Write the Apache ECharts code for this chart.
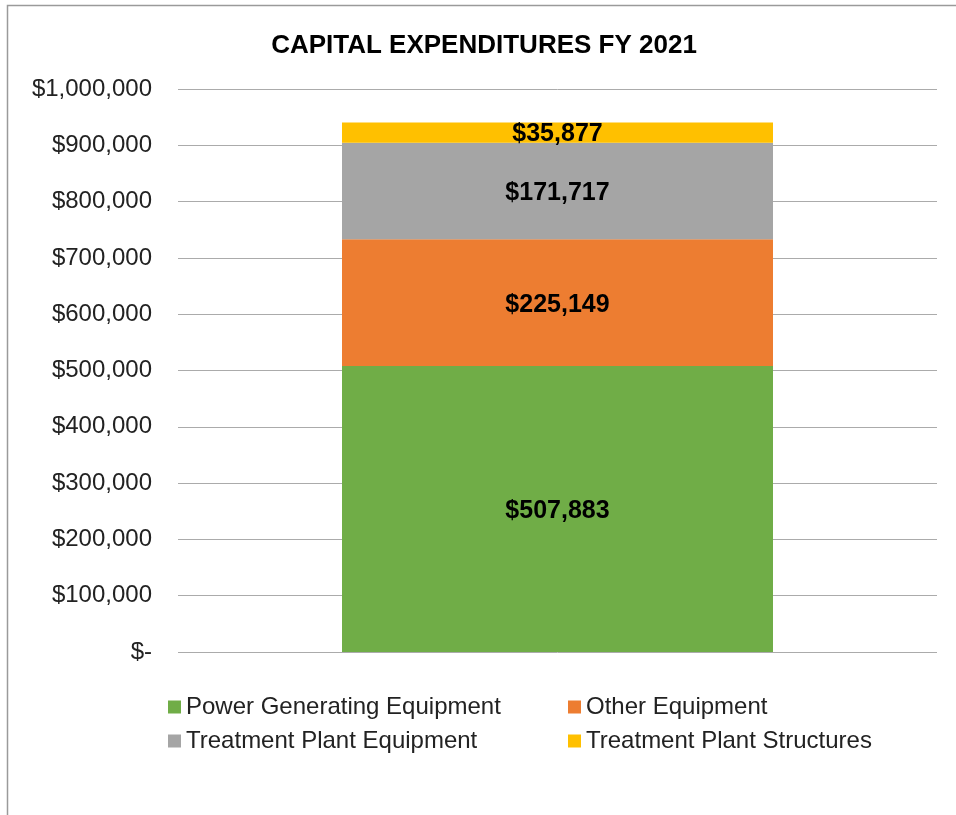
<!DOCTYPE html>
<html>
<head>
<meta charset="utf-8">
<script src="https://cdn.jsdelivr.net/npm/echarts@6/dist/echarts.min.js"></script>
<style>
html,body{margin:0;padding:0;background:#fff;}
#chart{width:956px;height:815px;}
</style>
</head>
<body>
<div id="chart"></div>
<script>
const titleText = 'CAPITAL EXPENDITURES FY 2021';
const categories = ['FY 2021'];
const seriesNames = ['Power Generating Equipment', 'Other Equipment', 'Treatment Plant Equipment', 'Treatment Plant Structures'];
const powerGenerating = [507883];
const otherEquipment = [225149];
const treatmentPlantEquipment = [171717];
const treatmentPlantStructures = [35877];
const colors = ['#70AD47', '#ED7D31', '#A5A5A5', '#FFC000'];
const yTicks = { min: 0, max: 1000000, interval: 100000 };

const font = '"Liberation Sans", Arial, sans-serif';
function money(v) {
  if (v === 0) return '$-';
  return '$' + v.toLocaleString('en-US');
}
const seriesData = [powerGenerating, otherEquipment, treatmentPlantEquipment, treatmentPlantStructures];

const legendText = { fontFamily: font, fontSize: 24, color: '#222', lineHeight: 23 };
const chart = echarts.init(document.getElementById('chart'), null, { renderer: 'canvas' });
chart.setOption({
  animation: false,
  backgroundColor: '#fff',
  graphic: [{
    type: 'rect', silent: true, z: -1,
    shape: { x: 7.5, y: 5.5, width: 1000, height: 1000 },
    style: { fill: 'none', stroke: '#9a9a9a', lineWidth: 1.5 }
  }],
  title: {
    text: titleText, left: 484, top: 33, textAlign: 'center', padding: 0,
    textStyle: { fontFamily: font, fontWeight: 'bold', fontSize: 26, color: '#000' }
  },
  grid: { left: 178, right: 19, top: 89, bottom: 163, containLabel: false },
  legend: [{
    data: [seriesNames[0], seriesNames[2]],
    orient: 'vertical', left: 168, top: 695, padding: 0, itemWidth: 13, itemHeight: 13, itemGap: 10,
    icon: 'rect', textStyle: legendText
  }, {
    data: [seriesNames[1], seriesNames[3]],
    orient: 'vertical', left: 568, top: 695, padding: 0, itemWidth: 13, itemHeight: 13, itemGap: 10,
    icon: 'rect', textStyle: legendText
  }],
  xAxis: {
    type: 'category', data: categories,
    axisLine: { show: false }, axisTick: { show: false }, axisLabel: { show: false }
  },
  yAxis: {
    type: 'value', min: yTicks.min, max: yTicks.max, interval: yTicks.interval,
    axisLine: { show: false }, axisTick: { show: false },
    axisLabel: { formatter: money, fontFamily: font, fontSize: 24, color: '#222', margin: 26 },
    splitLine: { lineStyle: { color: '#ABABAB', width: 1 } }
  },
  series: seriesNames.map((name, i) => ({
    name, type: 'bar', stack: 'total', barWidth: 431,
    data: seriesData[i],
    itemStyle: { color: colors[i] },
    label: {
      show: true, position: 'inside', offset: [0, 2], formatter: p => money(p.value),
      fontFamily: font, fontWeight: 'bold', fontSize: 25, color: '#000'
    }
  }))
});
</script>
</body>
</html>
